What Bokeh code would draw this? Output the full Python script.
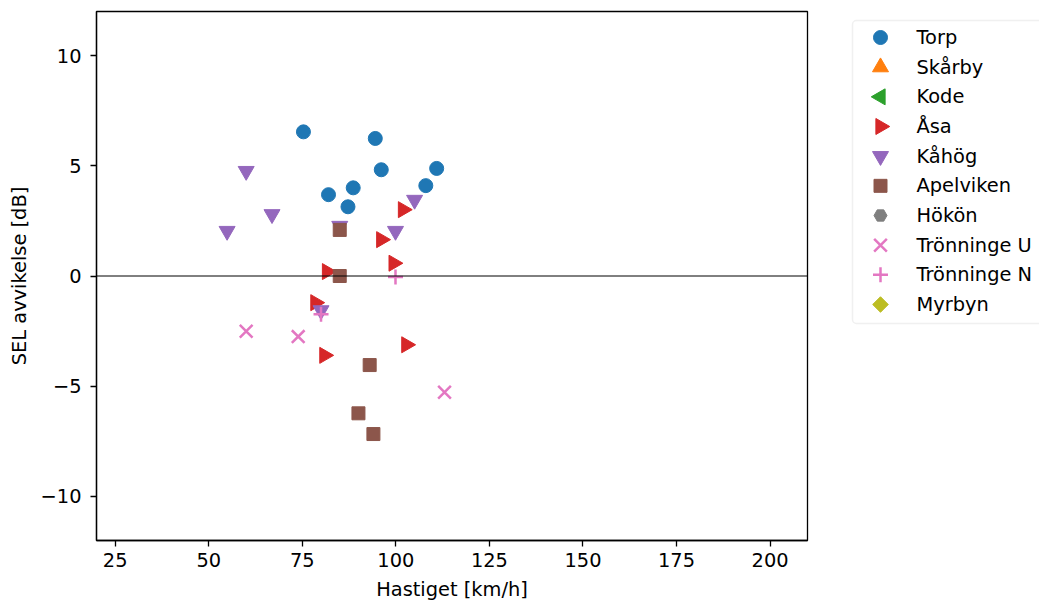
from bokeh.plotting import figure
from bokeh.layouts import row
from bokeh.models import Range1d, FixedTicker, Span, ColumnDataSource, BoxAnnotation
from bokeh.core.properties import value
from bokeh.embed import file_html
from bokeh.resources import INLINE

# ---- data ----
series_names = ["Torp", "Skårby", "Kode", "Åsa", "Kåhög", "Apelviken", "Hökön",
                "Trönninge U", "Trönninge N", "Myrbyn"]

torp_x = [75.3, 94.5, 96.1, 110.9, 82.0, 88.6, 87.2, 108.0]
torp_y = [6.54, 6.24, 4.82, 4.88, 3.69, 4.00, 3.14, 4.10]

skarby_x = []
skarby_y = []

kode_x = []
kode_y = []

asa_x = [101.9, 96.1, 99.4, 81.6, 78.5, 80.9, 102.8]
asa_y = [3.01, 1.65, 0.58, 0.20, -1.21, -3.60, -3.12]

kahog_x = [60.0, 66.9, 54.9, 105.0, 99.9, 85.0, 80.0]
kahog_y = [4.76, 2.80, 2.04, 3.45, 2.04, 2.27, -1.56]

apelviken_x = [85.0, 85.0, 93.0, 90.0, 94.0]
apelviken_y = [2.09, 0.0, -4.04, -6.23, -7.17]

hokon_x = []
hokon_y = []

tronU_x = [60.0, 73.9, 113.0]
tronU_y = [-2.51, -2.75, -5.27]

tronN_x = [99.9, 80.0]
tronN_y = [-0.05, -1.74]

myrbyn_x = []
myrbyn_y = []

x_ticks = [25, 50, 75, 100, 125, 150, 175, 200]
y_ticks = [-10, -5, 0, 5, 10]

FONT = "DejaVu Sans"
FS = "19.4px"

# ---- main plot ----
p = figure(width=830, height=604, output_backend="svg", toolbar_location=None,
           x_range=Range1d(20, 210), y_range=Range1d(-12, 12),
           min_border_left=96, min_border_right=23, min_border_top=11, min_border_bottom=64)

p.xgrid.visible = False
p.ygrid.visible = False
p.outline_line_color = "black"
p.outline_line_width = 1.3

for ax in (p.xaxis[0], p.yaxis[0]):
    ax.axis_line_width = 1.3
    ax.major_tick_line_width = 1.3
    ax.major_tick_out = 6
    ax.major_tick_in = 0
    ax.minor_tick_line_color = None
    ax.major_label_text_font = FONT
    ax.major_label_text_font_size = FS
    ax.major_label_text_color = "black"
    ax.axis_label_text_font = FONT
    ax.axis_label_text_font_size = FS
    ax.axis_label_text_font_style = "normal"
    ax.axis_label_text_color = "black"

p.xaxis.ticker = FixedTicker(ticks=x_ticks)
p.yaxis.ticker = FixedTicker(ticks=y_ticks)
p.yaxis.major_label_overrides = {t: (("\u2212" + str(-t)) if t < 0 else str(t)) for t in y_ticks}
p.xaxis.axis_label = "Hastiget [km/h]"
p.yaxis.axis_label = "SEL avvikelse [dB]"
p.xaxis.major_label_standoff = 6
p.yaxis.major_label_standoff = 9
p.xaxis.axis_label_standoff = 8
p.yaxis.axis_label_standoff = 7

p.add_layout(Span(location=0, dimension="width", line_color="black", line_width=1.0))

specs = [
    (torp_x, torp_y, "circle", "#1f77b4", 14, 0),
    (skarby_x, skarby_y, "triangle", "#ff7f0e", 16, 0),
    (kode_x, kode_y, "triangle", "#2ca02c", 16, 1.5708),
    (asa_x, asa_y, "triangle", "#d62728", 16, -1.5708),
    (kahog_x, kahog_y, "inverted_triangle", "#9467bd", 16, 0),
    (apelviken_x, apelviken_y, "square", "#8c564b", 13, 0),
    (hokon_x, hokon_y, "hex", "#7f7f7f", 13, 0),
    (tronU_x, tronU_y, "x", "#e377c2", 18, 0),
    (tronN_x, tronN_y, "cross", "#e377c2", 15, 0),
    (myrbyn_x, myrbyn_y, "square", "#bcbd22", 11, 0.7854),
]

def draw(fig, xs, ys, marker, color, size, ang):
    src = ColumnDataSource(data=dict(x=xs, y=ys))
    if marker in ("x", "cross"):
        fig.scatter("x", "y", source=src, marker=marker, size=size, line_color=color,
                    line_width=2.5, fill_color=None, angle=ang)
    else:
        fig.scatter("x", "y", source=src, marker=marker, size=size, fill_color=color,
                    line_color=color, line_width=1, angle=ang)

for xs, ys, marker, color, size, ang in specs:
    draw(p, xs, ys, marker, color, size, ang)

# ---- legend panel (page-pixel coordinates, y downwards; frame aligned to main frame) ----
LW = 1039 - 830
leg = figure(width=LW, height=604, output_backend="svg", toolbar_location=None, title=None,
             x_range=Range1d(0, LW), y_range=Range1d(540, 11),
             x_axis_type=None, y_axis_type=None,
             min_border_left=0, min_border_right=0, min_border_top=11, min_border_bottom=64)
leg.xgrid.visible = False
leg.ygrid.visible = False
leg.outline_line_color = None

leg.add_layout(BoxAnnotation(left=22, right=LW + 20, top=20, bottom=323, level="underlay",
                             fill_color="white", fill_alpha=1.0,
                             line_color="#cccccc", line_width=1.5, border_radius=4))

pitch = (304 - 37) / 9.0
for i, (spec, name) in enumerate(zip(specs, series_names)):
    _, _, marker, color, size, ang = spec
    yy = 37 + i * pitch
    draw(leg, [50], [yy], marker, color, size, ang)
    leg.text(x=[86], y=[yy], text=[name], text_baseline="middle", text_align="left",
             text_font=value(FONT), text_font_size=FS, text_color="black")

layout = row(p, leg, spacing=0)
open("out.html", "w").write(file_html(layout, INLINE))
